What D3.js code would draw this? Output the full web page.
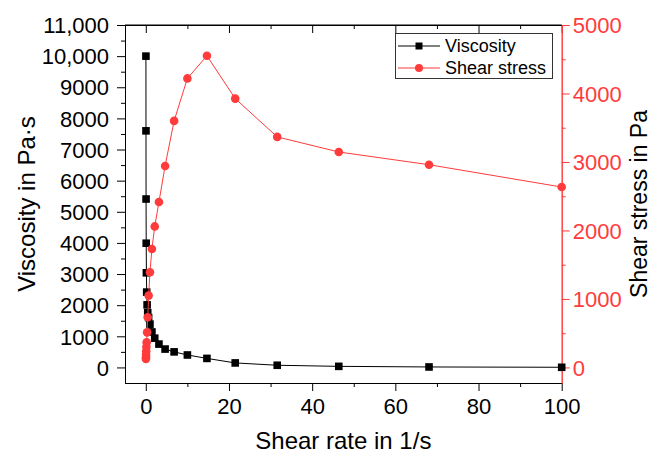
<!DOCTYPE html>
<html>
<head>
<meta charset="utf-8">
<script src="https://cdn.jsdelivr.net/npm/d3@7"></script>
<style>
body { margin: 0; background: #fff; }
text { font-family: "Liberation Sans", Arial, sans-serif; }
</style>
</head>
<body>
<div id="chart"></div>
<script>
/* Viscosity and shear stress vs shear rate */

var shear_rate = [0.0316, 0.0464, 0.0681, 0.1, 0.147, 0.215, 0.316, 0.464, 0.681, 1,
                  1.47, 2.15, 3.16, 4.64, 6.81, 10, 14.7, 21.5, 31.6, 46.4, 68.1, 100];
var viscosity  = [10000, 7600, 5410, 3990, 3040, 2420, 2010, 1760, 1600, 1390,
                  1140, 940, 750, 590, 500, 400, 290, 145, 70, 35, 15, 5];
var stress     = [125, 150, 185, 235, 300, 366, 512, 732, 1049, 1390,
                  1730, 2059, 2415, 2942, 3600, 4220, 4550, 3925, 3366, 3146, 2960, 2634];

var x_ticks      = [0, 20, 40, 60, 80, 100];
var x_minor      = [10, 30, 50, 70, 90];
var left_ticks   = [0, 1000, 2000, 3000, 4000, 5000, 6000, 7000, 8000, 9000, 10000, 11000];
var left_minor   = [500, 1500, 2500, 3500, 4500, 5500, 6500, 7500, 8500, 9500, 10500];
var right_ticks  = [0, 1000, 2000, 3000, 4000, 5000];
var right_minor  = [500, 1500, 2500, 3500, 4500];

var chart_width  = 652;
var chart_height = 455;
var plot_left   = 125;
var plot_right  = 561.7;
var plot_top    = 25;
var plot_bottom = 383;
var red = '#ff3b3b';

var svg = d3.select('#chart')
		.append('svg')
		.attr('width', chart_width)
		.attr('height', chart_height);

// Scales
var x_scale  = d3.scaleLinear().domain([-5, 100]).range([plot_left, plot_right]);
var yl_scale = d3.scaleLinear().domain([-500, 11000]).range([plot_bottom, plot_top]);
var yr_scale = d3.scaleLinear().domain([-5000 * 500 / 11000, 5000]).range([plot_bottom, plot_top]);

var fmt_left = function(d){
	return d >= 10000 ? d3.format(',')(d) : d;
};

// Bottom axis
svg.append('g')
		.attr('transform', 'translate(0,' + plot_bottom + ')')
		.call(d3.axisBottom(x_scale).tickValues(x_ticks).tickSize(8).tickPadding(7).tickSizeOuter(0))
		.call(function(g){ g.selectAll('text').attr('font-size', 22).attr('fill', '#000'); });
svg.append('g')
		.attr('transform', 'translate(0,' + plot_bottom + ')')
		.call(d3.axisBottom(x_scale).tickValues(x_minor).tickSize(4).tickFormat('').tickSizeOuter(0));

// Top axis (ticks inward)
svg.append('g')
		.attr('transform', 'translate(0,' + plot_top + ')')
		.call(d3.axisBottom(x_scale).tickValues(x_ticks).tickSize(8).tickFormat('').tickSizeOuter(0));
svg.append('g')
		.attr('transform', 'translate(0,' + plot_top + ')')
		.call(d3.axisBottom(x_scale).tickValues(x_minor).tickSize(4).tickFormat('').tickSizeOuter(0));

// Left axis
svg.append('g')
		.attr('transform', 'translate(' + plot_left + ',0)')
		.call(d3.axisLeft(yl_scale).tickValues(left_ticks).tickFormat(fmt_left).tickSize(8).tickPadding(8).tickSizeOuter(0))
		.call(function(g){ g.selectAll('text').attr('font-size', 22).attr('fill', '#000').attr('dy', '0.35em'); });
svg.append('g')
		.attr('transform', 'translate(' + plot_left + ',0)')
		.call(d3.axisLeft(yl_scale).tickValues(left_minor).tickSize(4).tickFormat('').tickSizeOuter(0));

// Right axis (red)
var right_axis = svg.append('g')
		.attr('transform', 'translate(' + plot_right + ',0)')
		.call(d3.axisRight(yr_scale).tickValues(right_ticks).tickFormat(d3.format('d')).tickSize(8).tickPadding(3).tickSizeOuter(0));
right_axis.selectAll('text').attr('font-size', 22).attr('fill', red).attr('dy', '0.35em');
right_axis.selectAll('line').attr('stroke', red);
right_axis.select('.domain').attr('stroke', red);
svg.append('g')
		.attr('transform', 'translate(' + plot_right + ',0)')
		.call(d3.axisRight(yr_scale).tickValues(right_minor).tickSize(4).tickFormat('').tickSizeOuter(0))
		.call(function(g){ g.selectAll('line').attr('stroke', red); g.select('.domain').attr('stroke', red); });

// Top frame line
svg.append('line')
		.attr('x1', plot_left).attr('x2', plot_right)
		.attr('y1', plot_top).attr('y2', plot_top)
		.attr('stroke', '#000');

// Axis titles
svg.append('text')
		.text('Shear rate in 1/s')
		.attr('x', (plot_left + plot_right) / 2)
		.attr('y', 449)
		.attr('text-anchor', 'middle')
		.attr('font-size', 24);

svg.append('text')
		.text('Viscosity in Pa·s')
		.attr('transform', 'translate(35,' + (plot_top + plot_bottom) / 2 + ') rotate(-90)')
		.attr('text-anchor', 'middle')
		.attr('font-size', 24);

svg.append('text')
		.text('Shear stress in Pa')
		.attr('transform', 'translate(647,' + (plot_top + plot_bottom) / 2 + ') rotate(-90)')
		.attr('text-anchor', 'middle')
		.attr('font-size', 23);

// Viscosity series
var visc_line = d3.line()
		.x(function(d, i){ return x_scale(shear_rate[i]); })
		.y(function(d){ return yl_scale(d); });

svg.append('path')
		.datum(viscosity)
		.attr('d', visc_line)
		.attr('fill', 'none')
		.attr('stroke', '#000')
		.attr('stroke-width', 1);

svg.selectAll('rect.visc')
		.data(viscosity)
		.enter()
		.append('rect')
		.attr('class', 'visc')
		.attr('x', function(d, i){ return x_scale(shear_rate[i]) - 3.8; })
		.attr('y', function(d){ return yl_scale(d) - 3.8; })
		.attr('width', 7.6)
		.attr('height', 7.6)
		.attr('fill', '#000');

// Shear stress series
var stress_line = d3.line()
		.x(function(d, i){ return x_scale(shear_rate[i]); })
		.y(function(d){ return yr_scale(d); });

svg.append('path')
		.datum(stress)
		.attr('d', stress_line)
		.attr('fill', 'none')
		.attr('stroke', red)
		.attr('stroke-width', 1);

svg.selectAll('circle.stress')
		.data(stress)
		.enter()
		.append('circle')
		.attr('class', 'stress')
		.attr('cx', function(d, i){ return x_scale(shear_rate[i]); })
		.attr('cy', function(d){ return yr_scale(d); })
		.attr('r', 4.3)
		.attr('fill', red);

// Legend
var legend = svg.append('g');
legend.append('rect')
		.attr('x', 395.5).attr('y', 33.5)
		.attr('width', 157).attr('height', 45)
		.attr('fill', '#fff')
		.attr('stroke', '#333');

legend.append('line')
		.attr('x1', 398).attr('x2', 440).attr('y1', 46).attr('y2', 46)
		.attr('stroke', '#000');
legend.append('rect')
		.attr('x', 415.5).attr('y', 42.5).attr('width', 7).attr('height', 7)
		.attr('fill', '#000');
legend.append('text')
		.text('Viscosity')
		.attr('x', 445).attr('y', 46).attr('dy', '0.35em')
		.attr('font-size', 18);

legend.append('line')
		.attr('x1', 398).attr('x2', 440).attr('y1', 68).attr('y2', 68)
		.attr('stroke', red);
legend.append('circle')
		.attr('cx', 419).attr('cy', 68).attr('r', 4)
		.attr('fill', red);
legend.append('text')
		.text('Shear stress')
		.attr('x', 445).attr('y', 68).attr('dy', '0.35em')
		.attr('font-size', 18);
</script>
</body>
</html>
